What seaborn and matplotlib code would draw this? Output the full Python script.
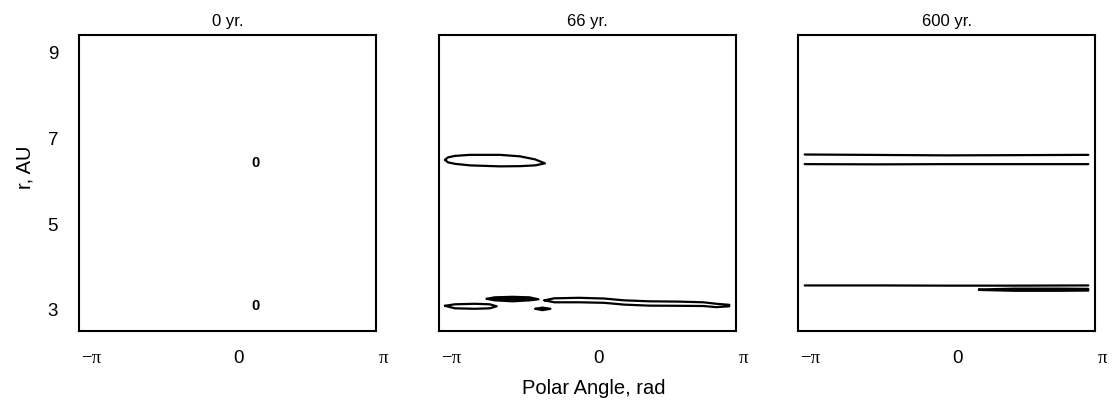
import numpy as np
import matplotlib
matplotlib.use("Agg")
import matplotlib.pyplot as plt
import matplotlib.transforms as mtransforms
import seaborn as sns

# ---------------- data ----------------
titles = ["0 yr.", "66 yr.", "600 yr."]
x_tick_vals = [-np.pi, 0.0, np.pi]
x_tick_labels = ["\u2212\u03c0", "0", "\u03c0"]
y_tick_vals = [3, 5, 7, 9]
y_tick_labels = ["3", "5", "7", "9"]

# panel 1: contour labels only
p1_label_x = [0.61, 0.61]
p1_label_y = [6.43, 3.09]
p1_label_txt = ["0", "0"]

# panel 2: closed contours (x, upper edge, lower edge)
p2_a_x = [-3.157, -3.091, -2.936, -2.604, -1.939, -1.496, -1.163, -0.942]
p2_a_top = [6.500, 6.558, 6.593, 6.617, 6.617, 6.582, 6.512, 6.418]
p2_a_bot = [6.500, 6.442, 6.407, 6.371, 6.348, 6.353, 6.371, 6.418]

p2_b_x = [-3.158, -2.938, -2.497, -2.167, -2.012]
p2_b_top = [3.089, 3.124, 3.136, 3.124, 3.077]
p2_b_bot = [3.089, 3.030, 3.019, 3.030, 3.077]

p2_c_x = [-2.233, -2.057, -1.660, -1.286, -1.087]
p2_c_top = [3.252, 3.287, 3.299, 3.287, 3.241]
p2_c_bot = [3.252, 3.217, 3.194, 3.217, 3.241]

p2_d_x = [-1.153, -0.999, -0.823]
p2_d_top = [3.019, 3.047, 3.019]
p2_d_bot = [3.019, 2.988, 3.019]

p2_e_x = [-0.955, -0.735, -0.184, 0.366, 0.807, 1.357, 2.018, 2.569, 2.855, 3.140]
p2_e_top = [3.217, 3.264, 3.276, 3.259, 3.217, 3.194, 3.187, 3.171, 3.136, 3.112]
p2_e_bot = [3.217, 3.171, 3.171, 3.159, 3.117, 3.093, 3.089, 3.084, 3.058, 3.077]

# panel 3: long contour lines
p3_x = [-np.pi, -1.5, 0.0, 1.5, np.pi]
p3_line1 = [6.625, 6.615, 6.605, 6.610, 6.617]
p3_line2 = [6.400, 6.395, 6.400, 6.400, 6.400]
p3_line3 = [3.565, 3.565, 3.560, 3.560, 3.565]
p3_f_x = [0.72, 1.5, 2.5, 3.14]
p3_f_top = [3.470, 3.490, 3.490, 3.485]
p3_f_bot = [3.460, 3.440, 3.440, 3.445]

# ---------------- style ----------------
sns.set_theme(style="white")
plt.rcParams["font.family"] = ["Liberation Sans", "DejaVu Sans"]
plt.rcParams["text.color"] = "black"
plt.rcParams["xtick.color"] = "black"
plt.rcParams["ytick.color"] = "black"
plt.rcParams["axes.labelcolor"] = "black"

fig = plt.figure(figsize=(11.15, 4.04), dpi=100)
W, H = 1115.0, 404.0
lefts = [79, 439, 798]
ax_w = 297
top_px, bot_px = 34.5, 331
axes = []
for lp in lefts:
    ax = fig.add_axes([lp / W, 1 - bot_px / H, ax_w / W, (bot_px - top_px) / H])
    axes.append(ax)

XLIM = (-3.29, 3.29)
YLIM = (2.5, 9.43)
LW = 1.6


def loop(ax, x, top, bot, fill=False):
    xs = list(x) + list(x[::-1]) + [x[0]]
    ys = list(top) + list(bot[::-1]) + [top[0]]
    if fill:
        ax.fill(xs, ys, color="black", lw=0)
    sns.lineplot(x=xs, y=ys, sort=False, estimator=None, color="black",
                 lw=LW, ax=ax)


label_shifts = [5, 11, 14]  # px, horizontal label offsets as in reference
label_fams = [["Liberation Serif"], ["Liberation Sans"], ["Liberation Serif"]]

for i, ax in enumerate(axes):
    ax.set_xlim(*XLIM)
    ax.set_ylim(*YLIM)
    for s in ax.spines.values():
        s.set_color("black")
        s.set_linewidth(1.5)
    ax.set_title(titles[i], fontsize=12, pad=6, color="black")
    ax.set_xticks(x_tick_vals)
    ax.set_xticklabels(x_tick_labels, fontsize=13.5)
    ax.tick_params(axis="x", length=0, pad=14)
    for lab, sh, fam in zip(ax.get_xticklabels(), label_shifts, label_fams):
        lab.set_family(fam)
        lab.set_transform(lab.get_transform() +
                          mtransforms.ScaledTranslation(sh / 100, 0, fig.dpi_scale_trans))
    if i == 0:
        ax.set_yticks(y_tick_vals)
        ax.set_yticklabels(y_tick_labels, fontsize=13.5)
        ax.tick_params(axis="y", length=0, pad=15)
    else:
        ax.set_yticks([])

# panel 1
for x, y, t in zip(p1_label_x, p1_label_y, p1_label_txt):
    axes[0].text(x, y, t, ha="center", va="center", fontsize=10.5, fontweight="bold")

# panel 2
loop(axes[1], p2_a_x, p2_a_top, p2_a_bot)
loop(axes[1], p2_b_x, p2_b_top, p2_b_bot)
loop(axes[1], p2_c_x, p2_c_top, p2_c_bot, fill=True)
loop(axes[1], p2_d_x, p2_d_top, p2_d_bot, fill=True)
loop(axes[1], p2_e_x, p2_e_top, p2_e_bot)

# panel 3
for line in (p3_line1, p3_line2, p3_line3):
    sns.lineplot(x=p3_x, y=line, sort=False, estimator=None, color="black",
                 lw=LW, ax=axes[2])
loop(axes[2], p3_f_x, p3_f_top, p3_f_bot, fill=True)
for ax in axes:
    ax.set_xlabel("")
    ax.set_ylabel("")

fig.text(25 / W, 1 - 167 / H, "r, AU", rotation=90, ha="center", va="center", fontsize=14.5)
fig.text(594 / W, 1 - 389 / H, "Polar Angle, rad", ha="center", va="center", fontsize=14.5)

fig.savefig("out.png", dpi=100, facecolor="white")
